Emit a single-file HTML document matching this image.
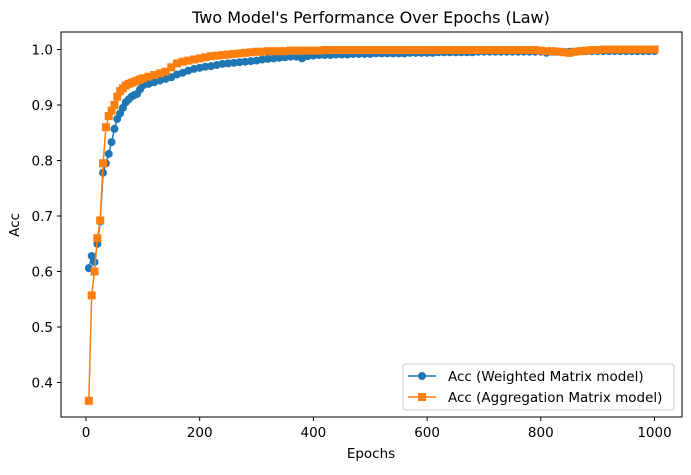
<!DOCTYPE html>
<html><head><meta charset="utf-8"><style>
body{margin:0;background:#fff;}
svg text{font-family:"DejaVu Sans","Liberation Sans",sans-serif;fill:#000;}
</style></head><body>
<svg id="chart" width="691" height="470" xmlns="http://www.w3.org/2000/svg">
<rect width="691" height="470" fill="#fff"/>
<text x="371" y="23" font-size="16" text-anchor="middle">Two Model's Performance Over Epochs (Law)</text>
<g id="axes"></g>
<g id="marks"></g>
<rect x="61" y="32" width="621" height="385" fill="none" stroke="#000" stroke-width="1"/>
<text x="371" y="458" font-size="13.5" text-anchor="middle">Epochs</text>
<text x="19" y="225" font-size="13.5" text-anchor="middle" transform="rotate(-90 19 225)">Acc</text>
<g>
<rect x="403" y="364" width="271" height="46" rx="3" fill="#fff" fill-opacity="0.8" stroke="#ccc"/>
<g>
<line x1="408" y1="376" x2="436" y2="376" stroke="#1f77b4" stroke-width="1.5"/>
<circle cx="422" cy="376" r="4" fill="#1f77b4"/>
<text x="448" y="381" font-size="13.5">Acc (Weighted Matrix model)</text></g>
<g>
<line x1="408" y1="397" x2="436" y2="397" stroke="#ff7f0e" stroke-width="1.5"/>
<rect x="418" y="393" width="8" height="8" fill="#ff7f0e"/>
<text x="448" y="402" font-size="13.5">Acc (Aggregation Matrix model)</text></g>
</g>
</svg>
<script>
const epochs = [5,10,15,20,25,30,35,40,45,50,55,60,65,70,75,80,85,90,95,100,110,120,130,140,150,160,170,180,190,200,210,220,230,240,250,260,270,280,290,300,310,320,330,340,350,360,370,380,390,400,410,420,430,440,450,460,470,480,490,500,510,520,530,540,550,560,570,580,590,600,610,620,630,640,650,660,670,680,690,700,710,720,730,740,750,760,770,780,790,800,810,820,830,840,850,860,870,880,890,900,910,920,930,940,950,960,970,980,990,1000];
const accWeighted = [0.606,0.628,0.617,0.650,0.690,0.778,0.795,0.812,0.833,0.857,0.875,0.885,0.895,0.905,0.910,0.915,0.918,0.920,0.928,0.935,0.938,0.941,0.944,0.947,0.950,0.955,0.958,0.962,0.965,0.967,0.969,0.970,0.972,0.974,0.975,0.976,0.977,0.978,0.979,0.980,0.982,0.983,0.984,0.985,0.986,0.987,0.987,0.984,0.988,0.989,0.990,0.990,0.990,0.991,0.991,0.991,0.992,0.992,0.992,0.992,0.993,0.993,0.993,0.993,0.993,0.993,0.994,0.994,0.994,0.994,0.994,0.995,0.995,0.995,0.995,0.995,0.995,0.995,0.996,0.996,0.996,0.996,0.996,0.996,0.996,0.996,0.996,0.996,0.996,0.996,0.994,0.996,0.996,0.996,0.996,0.996,0.997,0.997,0.997,0.997,0.997,0.997,0.997,0.997,0.997,0.997,0.997,0.997,0.997,0.997];
const accAggregation = [0.367,0.557,0.600,0.660,0.692,0.795,0.860,0.880,0.890,0.900,0.915,0.925,0.930,0.935,0.938,0.940,0.942,0.944,0.946,0.948,0.951,0.954,0.957,0.960,0.968,0.975,0.978,0.980,0.982,0.984,0.986,0.988,0.989,0.990,0.991,0.992,0.993,0.994,0.995,0.996,0.996,0.997,0.997,0.997,0.997,0.998,0.998,0.998,0.998,0.998,0.998,0.999,0.999,0.999,0.999,0.999,0.999,0.999,0.999,0.999,0.999,0.999,0.999,0.999,0.999,0.999,0.999,0.999,0.999,0.999,0.999,0.999,0.999,0.999,0.999,0.999,0.999,0.999,0.999,0.999,0.999,0.999,0.999,0.999,0.999,0.999,0.999,0.999,0.999,0.998,0.997,0.997,0.996,0.995,0.994,0.996,0.997,0.998,0.999,0.999,1.000,1.000,1.000,1.000,1.000,1.000,1.000,1.000,1.000,1.000];
const xTicks = [0,200,400,600,800,1000];
const yTicks = [0.4,0.5,0.6,0.7,0.8,0.9,1.0];
const NS="http://www.w3.org/2000/svg";
function xs(e){return 86+e*0.5685;}
function ys(v){return 49.5+(1-v)*555;}
const axes=document.getElementById('axes'), marks=document.getElementById('marks');
function mk(tag,attrs,parent){const el=document.createElementNS(NS,tag);for(const k in attrs)el.setAttribute(k,attrs[k]);parent.appendChild(el);return el;}
xTicks.forEach(t=>{
  const g=mk('g',{},axes);
  
  
  mk('line',{x1:xs(t),x2:xs(t),y1:417,y2:421,stroke:'#000'},g);
  const tx=mk('text',{x:xs(t),y:437,'font-size':13.5,'text-anchor':'middle'},g);tx.textContent=t;
});
yTicks.forEach(t=>{
  const g=mk('g',{},axes);
  
  
  mk('line',{x1:57,x2:61,y1:ys(t),y2:ys(t),stroke:'#000'},g);
  const tx=mk('text',{x:53,y:ys(t)+5,'font-size':13.5,'text-anchor':'end'},g);tx.textContent=t.toFixed(1);
});
function series(vals,color,shape,name){
  const g=mk('g',{},marks);
  
  
  const pts=epochs.map((e,i)=>xs(e).toFixed(1)+','+ys(vals[i]).toFixed(1)).join(' ');
  mk('polyline',{points:pts,fill:'none',stroke:color,'stroke-width':1.5},g);
  epochs.forEach((e,i)=>{
    let m;
    if(shape==='c') m=mk('circle',{cx:xs(e),cy:ys(vals[i]),r:4,fill:color},g);
    else m=mk('rect',{x:xs(e)-4,y:ys(vals[i])-4,width:8,height:8,fill:color},g);
    
    
  });
}
series(accWeighted,'#1f77b4','c','series-weighted');
series(accAggregation,'#ff7f0e','s','series-aggregation');
</script>
</body></html>
